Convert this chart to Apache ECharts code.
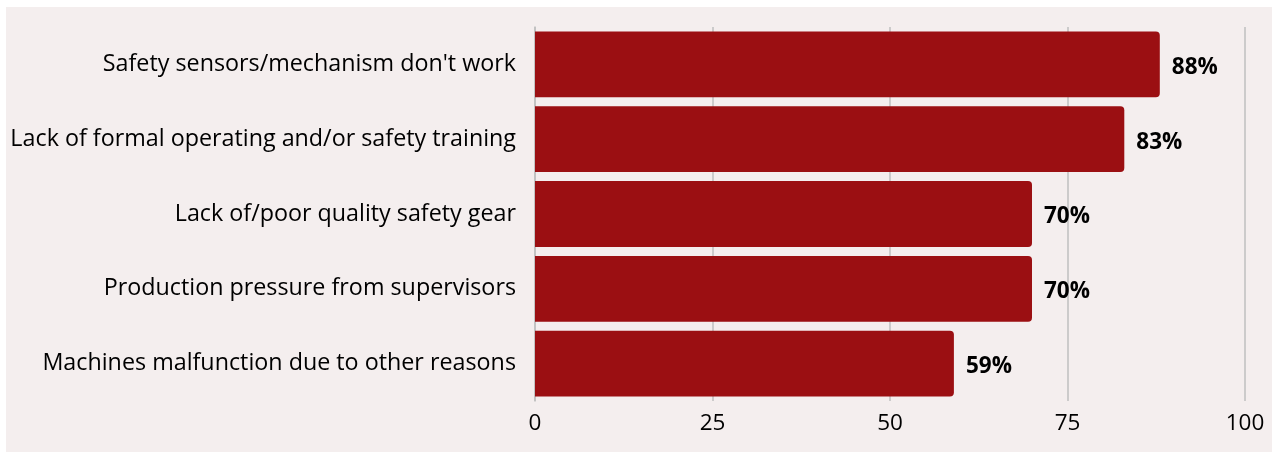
<!DOCTYPE html>
<html>
<head>
<meta charset="utf-8">
<script src="https://cdn.jsdelivr.net/npm/echarts@6/dist/echarts.min.js"></script>
<style>
  html, body { margin: 0; padding: 0; background: #ffffff; }
  #chart { position: absolute; left: 6px; top: 7px; width: 1266px; height: 445px; background: #f4eeee; }
</style>
</head>
<body>
<div id="chart"></div>
<script>
// categories top to bottom
var categories = [
    'Safety sensors/mechanism don\'t work',
    'Lack of formal operating and/or safety training',
    'Lack of/poor quality safety gear',
    'Production pressure from supervisors',
    'Machines malfunction due to other reasons'
];
var values = [88, 83, 70, 70, 59];
var xTicks = [0, 25, 50, 75, 100];

var myChart = echarts.init(document.getElementById('chart'));

var option = {
    backgroundColor: '#f4eeee',
    animation: false,
    textStyle: { fontFamily: '"Open Sans", sans-serif' },
    grid: {
        left: 529,
        right: 27,
        top: 20,
        bottom: 51
    },
    xAxis: {
        type: 'value',
        min: xTicks[0],
        max: xTicks[xTicks.length - 1],
        interval: 25,
        axisLine: { show: false },
        axisTick: { show: false },
        axisLabel: { color: '#000', fontSize: 22.5, margin: 11 },
        splitLine: { lineStyle: { color: '#bfbfbf', width: 1.5 } }
    },
    yAxis: {
        type: 'category',
        inverse: true,
        data: categories,
        axisLine: { show: true, lineStyle: { color: '#bfbfbf', width: 1.5 } },
        axisTick: { show: false },
        axisLabel: { color: '#000', fontSize: 23.3, margin: 19 }
    },
    series: [
        {
            type: 'bar',
            data: values,
            barCategoryGap: '12%',
            itemStyle: {
                color: '#9b0f12',
                borderRadius: [0, 4, 4, 0]
            },
            label: {
                show: true,
                position: 'right',
                distance: 12,
                color: '#000',
                fontWeight: 'bold',
                fontSize: 22.5,
                offset: [0, 3],
                formatter: '{c}%'
            }
        }
    ]
};

myChart.setOption(option);
</script>
</body>
</html>
